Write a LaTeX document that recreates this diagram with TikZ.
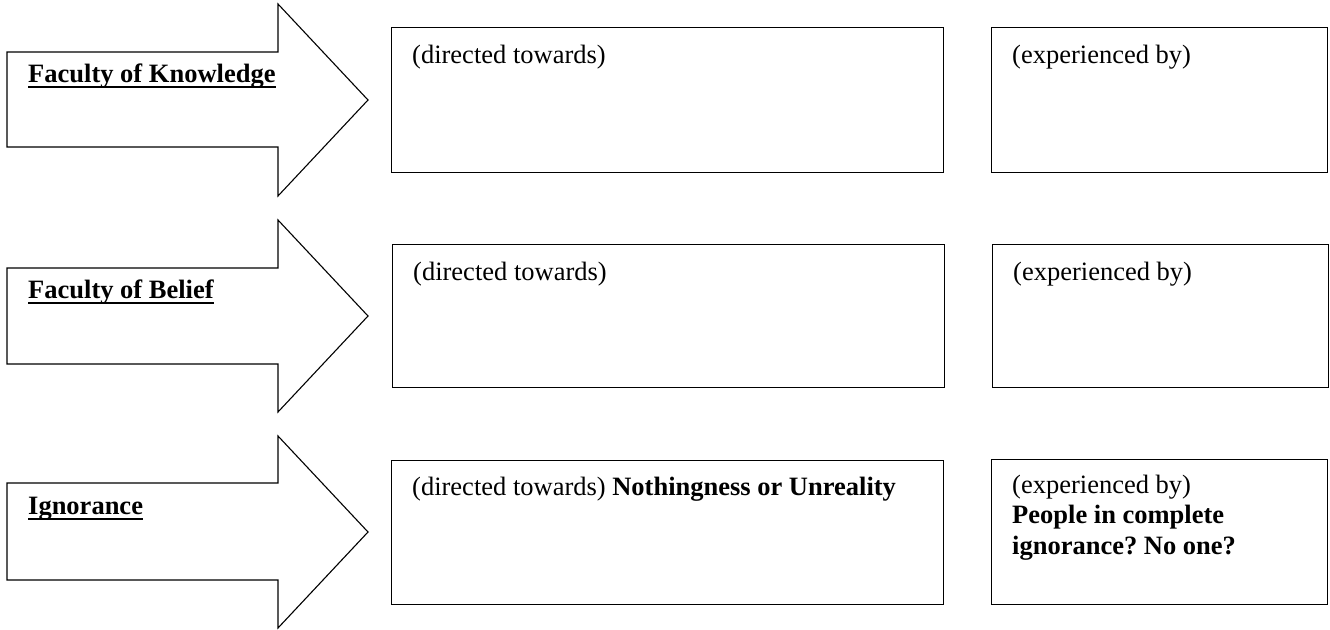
\documentclass[tikz,border=0pt]{standalone}
\usepackage{fontspec}
\setmainfont{Liberation Serif}
\frenchspacing
\begin{document}
\begin{tikzpicture}[x=1pt,y=-1pt,
  bigarrow/.style={draw=black,line width=1.1pt,line join=miter,fill=white},
  frame/.style={draw=black,line width=1.4pt,inner sep=0pt,anchor=north west},
  txt/.style={inner sep=0pt,anchor=base west,font=\fontsize{26.5}{30.5}\selectfont},
  lbl/.style={inner sep=0pt,anchor=base west,font=\fontsize{26.5}{30.5}\selectfont\bfseries},
  uline/.style={line width=1.8pt}]
\useasboundingbox (0,0) rectangle (1330,629);

% arrows
\foreach \t/\s/\m/\b/\h in {4/52/100/147/196, 220/268/316/364/412, 436/483/532/580/628}{
  \draw[bigarrow] (7,\s) -- (278,\s) -- (278,\t) -- (368,\m) -- (278,\h) -- (278,\b) -- (7,\b) -- cycle;
}

% arrow labels
\node[lbl] (l1) at (28,82) {Faculty of Knowledge};
\node[lbl] (l2) at (28,298) {Faculty of Belief};
\node[lbl] (l3) at (28,514) {Ignorance};
\foreach \n in {l1,l2,l3}{
  \draw[uline] ([yshift=-5pt]\n.base west) -- ([yshift=-5pt]\n.base east);
}

% boxes
\node[frame,minimum width=552,minimum height=145] (d1) at (391,27) {};
\node[frame,minimum width=336,minimum height=145] (e1) at (991,27) {};
\node[frame,minimum width=552,minimum height=143] (d2) at (392,244) {};
\node[frame,minimum width=336,minimum height=143] (e2) at (992,244) {};
\node[frame,minimum width=552,minimum height=144] (d3) at (391,460) {};
\node[frame,minimum width=336,minimum height=145] (e3) at (991,459) {};

% texts
\node[txt] (td1) at ([xshift=21pt,yshift=-36pt]d1.north west) {(directed towards)};
\node[txt] (te1) at ([xshift=21pt,yshift=-36pt]e1.north west) {(experienced by)};
\node[txt] (td2) at ([xshift=21pt,yshift=-36pt]d2.north west) {(directed towards)};
\node[txt] (te2) at ([xshift=21pt,yshift=-36pt]e2.north west) {(experienced by)};
\node[txt] (td3) at ([xshift=21pt,yshift=-35pt]d3.north west) {(directed towards) \textbf{Nothingness or Unreality}};
\node[txt] (te3) at ([xshift=21pt,yshift=-34pt]e3.north west) {\parbox[t]{300pt}{\fontsize{26.5}{30.5}\selectfont\raggedright (experienced by)\\\textbf{People in complete}\\\textbf{ignorance? No one?}}};
\end{tikzpicture}
\end{document}
